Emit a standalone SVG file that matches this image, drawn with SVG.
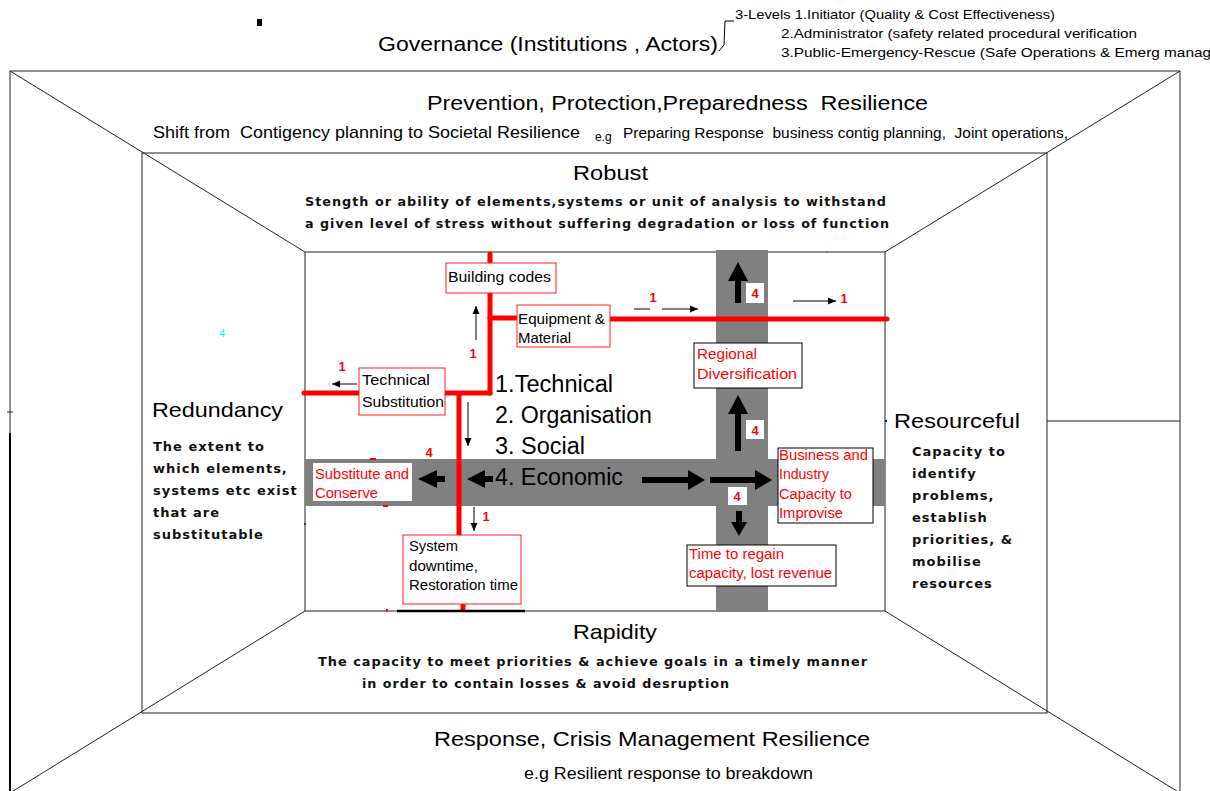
<svg xmlns="http://www.w3.org/2000/svg" width="1210" height="791" viewBox="0 0 1210 791">
<style>
.frame{fill:none;stroke:#222;stroke-width:1}
.t{font-family:"Liberation Sans",Arial,sans-serif;fill:#000;white-space:pre}
.b{font-family:"DejaVu Sans",Verdana,sans-serif;font-weight:bold;font-size:13px;fill:#111;letter-spacing:1px}
.band{fill:#808080}
.red{stroke:#ff0000;stroke-width:5;stroke-linecap:round;fill:none}
.thin{stroke:#000;stroke-width:1;fill:none}
.rbox{fill:#fff;stroke:#ff2020;stroke-width:1}
.kbox{fill:#fff;stroke:#000;stroke-width:1}
.bt{font-family:"Liberation Sans",Arial,sans-serif;font-size:14px;fill:#000}
.rt{font-family:"Liberation Sans",Arial,sans-serif;font-size:14px;fill:#ff0000}
.n{font-family:"Liberation Sans",Arial,sans-serif;font-weight:bold;font-size:13px;fill:#ff0000;text-anchor:middle}
.big{font-family:"Liberation Sans",Arial,sans-serif;font-size:23px;fill:#000}
.thick{fill:#000}
</style>
<defs>
<marker id="ah" markerWidth="9" markerHeight="9" refX="8" refY="4.5" orient="auto" markerUnits="userSpaceOnUse"><path d="M0,1 L8,4.5 L0,8 z" fill="#000"/></marker>
</defs>
<rect width="1210" height="791" fill="#fff"/>

<!-- frame -->
<g id="frame">
<line class="frame" x1="10" y1="71" x2="1180" y2="71"/>
<line class="frame" x1="10" y1="71" x2="10" y2="791"/>
<line x1="10" y1="433" x2="10" y2="791" stroke="#000" stroke-width="2"/>
<line class="frame" x1="7" y1="412" x2="13" y2="412"/>
<line class="frame" x1="1180" y1="71" x2="1180" y2="791"/>
<line class="frame" x1="1047" y1="421" x2="1180" y2="421"/>
<rect class="frame" x="142" y="153" width="905" height="560"/>
<rect class="frame" x="305" y="252" width="580" height="359" stroke="#333"/>
<line class="frame" x1="10" y1="71" x2="305" y2="252"/>
<line class="frame" x1="1180" y1="71" x2="885" y2="252"/>
<line class="frame" x1="305" y1="611" x2="10" y2="793"/>
<line class="frame" x1="885" y1="611" x2="1180" y2="793"/>
<rect x="257" y="19" width="5" height="7" fill="#000"/>
</g>

<!-- header -->
<g id="governance">
<text class="t" x="378" y="51" font-size="20" textLength="340" lengthAdjust="spacingAndGlyphs">Governance (Institutions , Actors)</text>
<polyline class="thin" points="719,51 724,45 725,21 734,21"/>
<text class="t" x="735" y="19" font-size="13" textLength="320" lengthAdjust="spacingAndGlyphs">3-Levels 1.Initiator (Quality &amp; Cost Effectiveness)</text>
<text class="t" x="781" y="38" font-size="13" textLength="356" lengthAdjust="spacingAndGlyphs">2.Administrator (safety related procedural verification</text>
<text class="t" x="781" y="57" font-size="13" textLength="430" lengthAdjust="spacingAndGlyphs">3.Public-Emergency-Rescue (Safe Operations &amp; Emerg manag</text>
</g>

<g id="prevention">
<text class="t" x="427" y="110" font-size="21" textLength="501" lengthAdjust="spacingAndGlyphs">Prevention, Protection,Preparedness  Resilience</text>
<text class="t" x="153" y="138" font-size="17" textLength="427" lengthAdjust="spacingAndGlyphs">Shift from  Contigency planning to Societal Resilience</text>
<text class="t" x="595" y="141" font-size="12">e.g</text>
<text class="t" x="623" y="138" font-size="14" textLength="445" lengthAdjust="spacingAndGlyphs">Preparing Response  business contig planning,  Joint operations,</text>
</g>

<g id="robust">
<text class="t" x="573" y="180" font-size="21" textLength="75" lengthAdjust="spacingAndGlyphs">Robust</text>
<text class="b" x="305" y="206" textLength="582" lengthAdjust="spacingAndGlyphs">Stength or ability of elements,systems or unit of analysis to withstand</text>
<text class="b" x="305" y="228" textLength="585" lengthAdjust="spacingAndGlyphs">a given level of stress without suffering degradation or loss of function</text>
</g>

<g id="redundancy">
<text class="t" x="152" y="417" font-size="21" textLength="131" lengthAdjust="spacingAndGlyphs">Redundancy</text>
<text class="b" x="153" y="451">The extent to</text>
<text class="b" x="153" y="473">which elements,</text>
<text class="b" x="153" y="495">systems etc exist</text>
<text class="b" x="153" y="517">that are</text>
<text class="b" x="153" y="539">substitutable</text>
<text x="222" y="337" font-family="Liberation Sans,Arial,sans-serif" font-size="11" fill="#00ffff" text-anchor="middle">4</text>
</g>

<g id="resourceful">
<circle cx="886" cy="421" r="1.2" fill="#0000ff"/>
<text class="t" x="894" y="428" font-size="21" textLength="126" lengthAdjust="spacingAndGlyphs">Resourceful</text>
<text class="b" x="912" y="456">Capacity to</text>
<text class="b" x="912" y="478">identify</text>
<text class="b" x="912" y="500">problems,</text>
<text class="b" x="912" y="522">establish</text>
<text class="b" x="912" y="544">priorities, &amp;</text>
<text class="b" x="912" y="566">mobilise</text>
<text class="b" x="912" y="588">resources</text>
</g>

<g id="rapidity">
<text class="t" x="573" y="639" font-size="21" textLength="84" lengthAdjust="spacingAndGlyphs">Rapidity</text>
<text class="b" x="318" y="666" textLength="550" lengthAdjust="spacingAndGlyphs">The capacity to meet priorities &amp; achieve goals in a timely manner</text>
<text class="b" x="362" y="688" textLength="368" lengthAdjust="spacingAndGlyphs">in order to contain losses &amp; avoid desruption</text>
</g>

<g id="response">
<text class="t" x="434" y="746" font-size="21" textLength="436" lengthAdjust="spacingAndGlyphs">Response, Crisis Management Resilience</text>
<text class="t" x="524" y="779" font-size="16" textLength="289" lengthAdjust="spacingAndGlyphs">e.g Resilient response to breakdown</text>
</g>

<!-- bands -->
<g id="bands">
<rect class="band" x="305" y="459" width="580" height="47"/>
<rect class="band" x="716" y="250" width="52" height="362"/>
</g>

<!-- connectors -->
<g id="connectors">
<line class="red" x1="490" y1="254" x2="490" y2="266"/>
<line class="red" x1="490" y1="291" x2="490" y2="393"/>
<line class="red" x1="490" y1="318" x2="516" y2="318"/>
<line class="red" x1="610" y1="319" x2="887" y2="319"/>
<line class="red" x1="445" y1="393" x2="490" y2="393"/>
<line class="red" x1="304" y1="393" x2="358" y2="393"/>
<line class="red" x1="459" y1="394" x2="459" y2="535"/>
<line class="red" x1="463" y1="604" x2="463" y2="609"/>
<line x1="397" y1="611" x2="525" y2="611" stroke="#000" stroke-width="2.5"/>
<line x1="370" y1="459" x2="376" y2="459" stroke="#f00" stroke-width="2"/>
<line x1="383" y1="506" x2="388" y2="506" stroke="#f00" stroke-width="2"/>
<rect x="386" y="609" width="2" height="3" fill="#f00"/>
<circle cx="305" cy="524" r="1" fill="#00f"/>
<circle cx="827" cy="252" r="1.2" fill="#00c080"/>

<line class="thin" x1="476" y1="340" x2="476" y2="306" marker-end="url(#ah)"/>
<line class="thin" x1="357" y1="384" x2="332" y2="384" marker-end="url(#ah)"/>
<line class="thin" x1="468" y1="402" x2="468" y2="446" marker-end="url(#ah)"/>
<line class="thin" x1="474" y1="507" x2="474" y2="531" marker-end="url(#ah)"/>
<line class="thin" x1="634" y1="309" x2="650" y2="309"/>
<line class="thin" x1="662" y1="309" x2="698" y2="309" marker-end="url(#ah)"/>
<line class="thin" x1="793" y1="301" x2="836" y2="301" marker-end="url(#ah)"/>

<polygon class="thick" points="418,479 437,470 437,476 445,476 445,482 437,482 437,488"/>
<polygon class="thick" points="467,479 485,470 485,476 493,476 493,482 485,482 485,488"/>
<polygon class="thick" points="642,477 688,477 688,470 705,480 688,490 688,483 642,483"/>
<polygon class="thick" points="710,477 755,477 755,470 772,480 755,490 755,483 710,483"/>
<polygon class="thick" points="738,262 748,281 741,281 741,303 735,303 735,281 728,281"/>
<polygon class="thick" points="738,395 748,414 741,414 741,451 735,451 735,414 728,414"/>
<polygon class="thick" points="736,511 742,511 742,522 747,522 739,536 731,522 736,522"/>

<text class="n" x="473" y="358">1</text>
<text class="n" x="342" y="371">1</text>
<text class="n" x="486" y="521">1</text>
<text class="n" x="653" y="302">1</text>
<text class="n" x="844" y="303">1</text>
<text class="n" x="429" y="457">4</text>
<rect x="746" y="283" width="18" height="20" fill="#fff"/>
<text class="n" x="755" y="298">4</text>
<rect x="746" y="420" width="18" height="19" fill="#fff"/>
<text class="n" x="755" y="435">4</text>
<rect x="728" y="487" width="19" height="18" fill="#fff"/>
<text class="n" x="737" y="501">4</text>
</g>

<!-- nodes -->
<g id="building-codes">
<rect class="rbox" x="446" y="263" width="110" height="30"/>
<text class="bt" x="448" y="282" textLength="103" lengthAdjust="spacingAndGlyphs">Building codes</text>
</g>
<g id="equipment">
<rect class="rbox" x="517" y="305" width="93" height="42"/>
<text class="bt" x="518" y="324" textLength="87" lengthAdjust="spacingAndGlyphs">Equipment &amp;</text>
<text class="bt" x="518" y="343" textLength="53" lengthAdjust="spacingAndGlyphs">Material</text>
</g>
<g id="technical-substitution">
<rect class="rbox" x="359" y="368" width="86" height="47"/>
<text class="bt" x="362" y="385" textLength="68" lengthAdjust="spacingAndGlyphs">Technical</text>
<text class="bt" x="362" y="407" textLength="82" lengthAdjust="spacingAndGlyphs">Substitution</text>
</g>
<g id="substitute-conserve">
<rect x="313" y="463" width="99" height="38" fill="#fff"/>
<text class="rt" x="315" y="479" textLength="94" lengthAdjust="spacingAndGlyphs">Substitute and</text>
<text class="rt" x="315" y="498" textLength="63" lengthAdjust="spacingAndGlyphs">Conserve</text>
</g>
<g id="system-downtime">
<rect class="rbox" x="403" y="535" width="118" height="69"/>
<text class="bt" x="409" y="551" textLength="49" lengthAdjust="spacingAndGlyphs">System</text>
<text class="bt" x="409" y="571" textLength="69" lengthAdjust="spacingAndGlyphs">downtime,</text>
<text class="bt" x="409" y="590" textLength="109" lengthAdjust="spacingAndGlyphs">Restoration time</text>
</g>
<g id="technical-list">
<text class="big" x="495" y="392" textLength="118" lengthAdjust="spacingAndGlyphs">1.Technical</text>
<text class="big" x="495" y="423" textLength="157" lengthAdjust="spacingAndGlyphs">2. Organisation</text>
<text class="big" x="495" y="454" textLength="90" lengthAdjust="spacingAndGlyphs">3. Social</text>
<text class="big" x="495" y="485" textLength="128" lengthAdjust="spacingAndGlyphs">4. Economic</text>
</g>
<g id="regional-diversification">
<rect class="kbox" x="694" y="343" width="108" height="45"/>
<text class="rt" x="697" y="359" textLength="60" lengthAdjust="spacingAndGlyphs">Regional</text>
<text class="rt" x="697" y="379" textLength="100" lengthAdjust="spacingAndGlyphs">Diversification</text>
</g>
<g id="business-industry">
<rect class="kbox" x="778" y="448" width="95" height="75"/>
<text class="rt" x="779" y="460" textLength="89" lengthAdjust="spacingAndGlyphs">Business and</text>
<text class="rt" x="779" y="479" textLength="50" lengthAdjust="spacingAndGlyphs">Industry</text>
<text class="rt" x="779" y="499" textLength="73" lengthAdjust="spacingAndGlyphs">Capacity to</text>
<text class="rt" x="779" y="518" textLength="64" lengthAdjust="spacingAndGlyphs">Improvise</text>
</g>
<g id="time-to-regain">
<rect class="kbox" x="687" y="545" width="149" height="41"/>
<text class="rt" x="689" y="559" textLength="95" lengthAdjust="spacingAndGlyphs">Time to regain</text>
<text class="rt" x="689" y="578" textLength="143" lengthAdjust="spacingAndGlyphs">capacity, lost revenue</text>
</g>
</svg>
